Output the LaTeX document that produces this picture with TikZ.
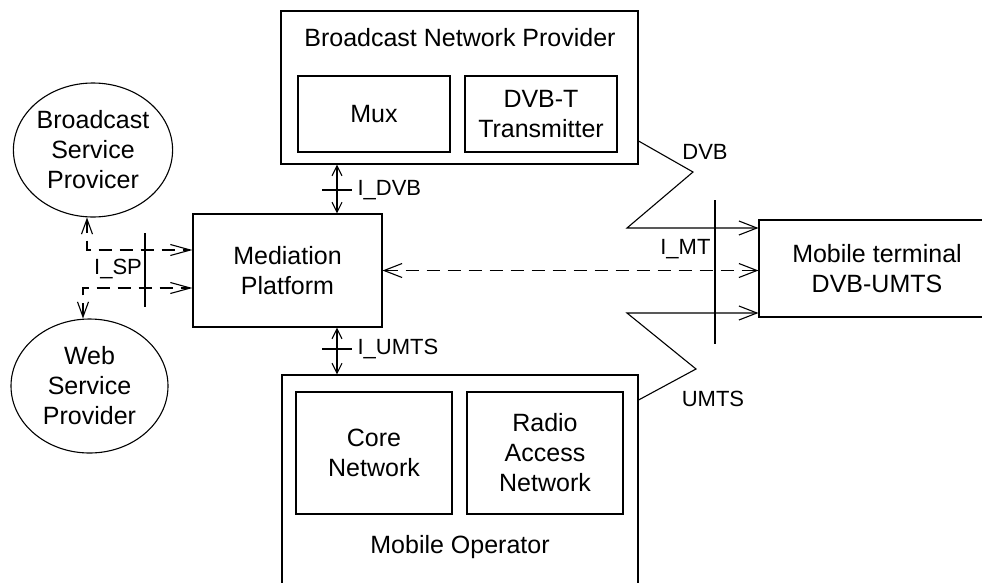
\documentclass[tikz,border=0pt]{standalone}
\usepackage{fontspec}
\setmainfont{Liberation Sans}
\usetikzlibrary{arrows.meta,shapes.geometric}
\begin{document}
\begin{tikzpicture}[x=1pt,y=-1pt,line width=1.1pt,
  box/.style={draw,rectangle,inner sep=0pt},
  oval/.style={draw,ellipse,inner sep=0pt,align=center,
    font=\fontsize{25}{30}\selectfont},
  ttl/.style={font=\fontsize{25}{30}\selectfont,align=center,inner sep=0pt},
  lbl/.style={font=\fontsize{22}{26}\selectfont,inner sep=0pt},
  dsh/.style={dash pattern=on 13pt off 8pt},
  bigtip/.style={-{Straight Barb[length=18pt,width=14pt]}},
  bothbig/.style={{Straight Barb[length=18pt,width=14pt]}-{Straight Barb[length=18pt,width=14pt]}},
  bothsmall/.style={{Straight Barb[length=10pt,width=10pt]}-{Straight Barb[length=10pt,width=10pt]}},
  bothsp/.style={{Straight Barb[length=15pt,width=11pt]}-{Straight Barb[length=20pt,width=11pt]}}]
\clip (0,0) rectangle (982,582);

% Broadcast network provider
\node[box,minimum width=357pt,minimum height=153pt] (bnp) at (459.5,87.5) {};
\node[ttl] (bnpt) at (460,38) {Broadcast Network Provider};
\node[box,ttl,minimum width=152pt,minimum height=76pt] (mux) at (374,114) {Mux};
\node[box,ttl,minimum width=152pt,minimum height=76pt] (dvbt) at (541,114) {DVB-T\\Transmitter};

% Mobile operator
\node[box,minimum width=356pt,minimum height=225pt] (mo) at (460,487.5) {};
\node[box,ttl,minimum width=156pt,minimum height=122pt] (core) at (374,453) {Core\\Network};
\node[box,ttl,minimum width=156pt,minimum height=122pt] (ran) at (545,453) {Radio\\Access\\Network};
\node[ttl] (mot) at (460,547) {Mobile Operator};

% Mediation platform and terminal
\node[box,ttl,minimum width=189pt,minimum height=113pt] (mp) at (287.5,270.5) {Mediation\\Platform};
\node[box,minimum width=241pt,minimum height=97pt] (mt) at (879.5,268.5) {};
\node[ttl] (mtt) at (877,269) {Mobile terminal\\DVB-UMTS};

% Service providers
\node[oval,minimum width=158pt,minimum height=134pt] (bsp) at (93,150) {Broadcast\\Service\\Provicer};
\node[oval,minimum width=157pt,minimum height=134pt] (wsp) at (89.5,386) {Web\\Service\\Provider};

% I_SP interface
\coordinate (spA) at (87,250);
\coordinate (spB) at (83,288);
\draw[dsh,bothsp] ([xshift=-6pt]bsp.south) -- (spA) -- (mp.west |- spA);
\draw[dsh,bothsp] ([xshift=-6.5pt]wsp.north) -- (spB) -- (mp.west |- spB);
\coordinate (ispT) at (145,233);
\coordinate (ispB) at (145,307);
\draw (ispT) -- (ispB);
\node[lbl] (isp) at (118,269) {I\_SP};

% I_DVB interface
\coordinate (idvb) at (337,190);
\draw[bothsmall] (idvb |- mp.north) -- (idvb |- bnp.south);
\draw ([xshift=-15pt]idvb) -- ([xshift=15pt]idvb);
\node[lbl,anchor=west] (idvbl) at (357,190) {I\_DVB};

% I_UMTS interface
\coordinate (iumts) at (337,349);
\draw[bothsmall] (iumts |- mp.south) -- (iumts |- mo.north);
\draw ([xshift=-15pt]iumts) -- ([xshift=15pt]iumts);
\node[lbl,anchor=west] (iumtsl) at (357,349) {I\_UMTS};

% Radio links to the terminal
\coordinate (dk1) at (693,172);
\coordinate (dk2) at (627,228);
\draw[bigtip] (bnp.east |- 0,141) -- (dk1) -- (dk2) -- (mt.west |- dk2);
\node[lbl] (dvbl) at (705,152) {DVB};
\coordinate (uk1) at (696,369);
\coordinate (uk2) at (627,313);
\draw[bigtip] (mo.east |- 0,400) -- (uk1) -- (uk2) -- (mt.west |- uk2);
\node[lbl] (umtsl) at (713,399) {UMTS};
\draw[dsh,bothbig] (mp.east) -- (mp.east -| mt.west);

% I_MT interface
\coordinate (imtT) at (715,200);
\coordinate (imtB) at (715,344);
\draw (imtT) -- (imtB);
\node[lbl,anchor=east] (imt) at (711,249) {I\_MT};
\end{tikzpicture}
\end{document}
